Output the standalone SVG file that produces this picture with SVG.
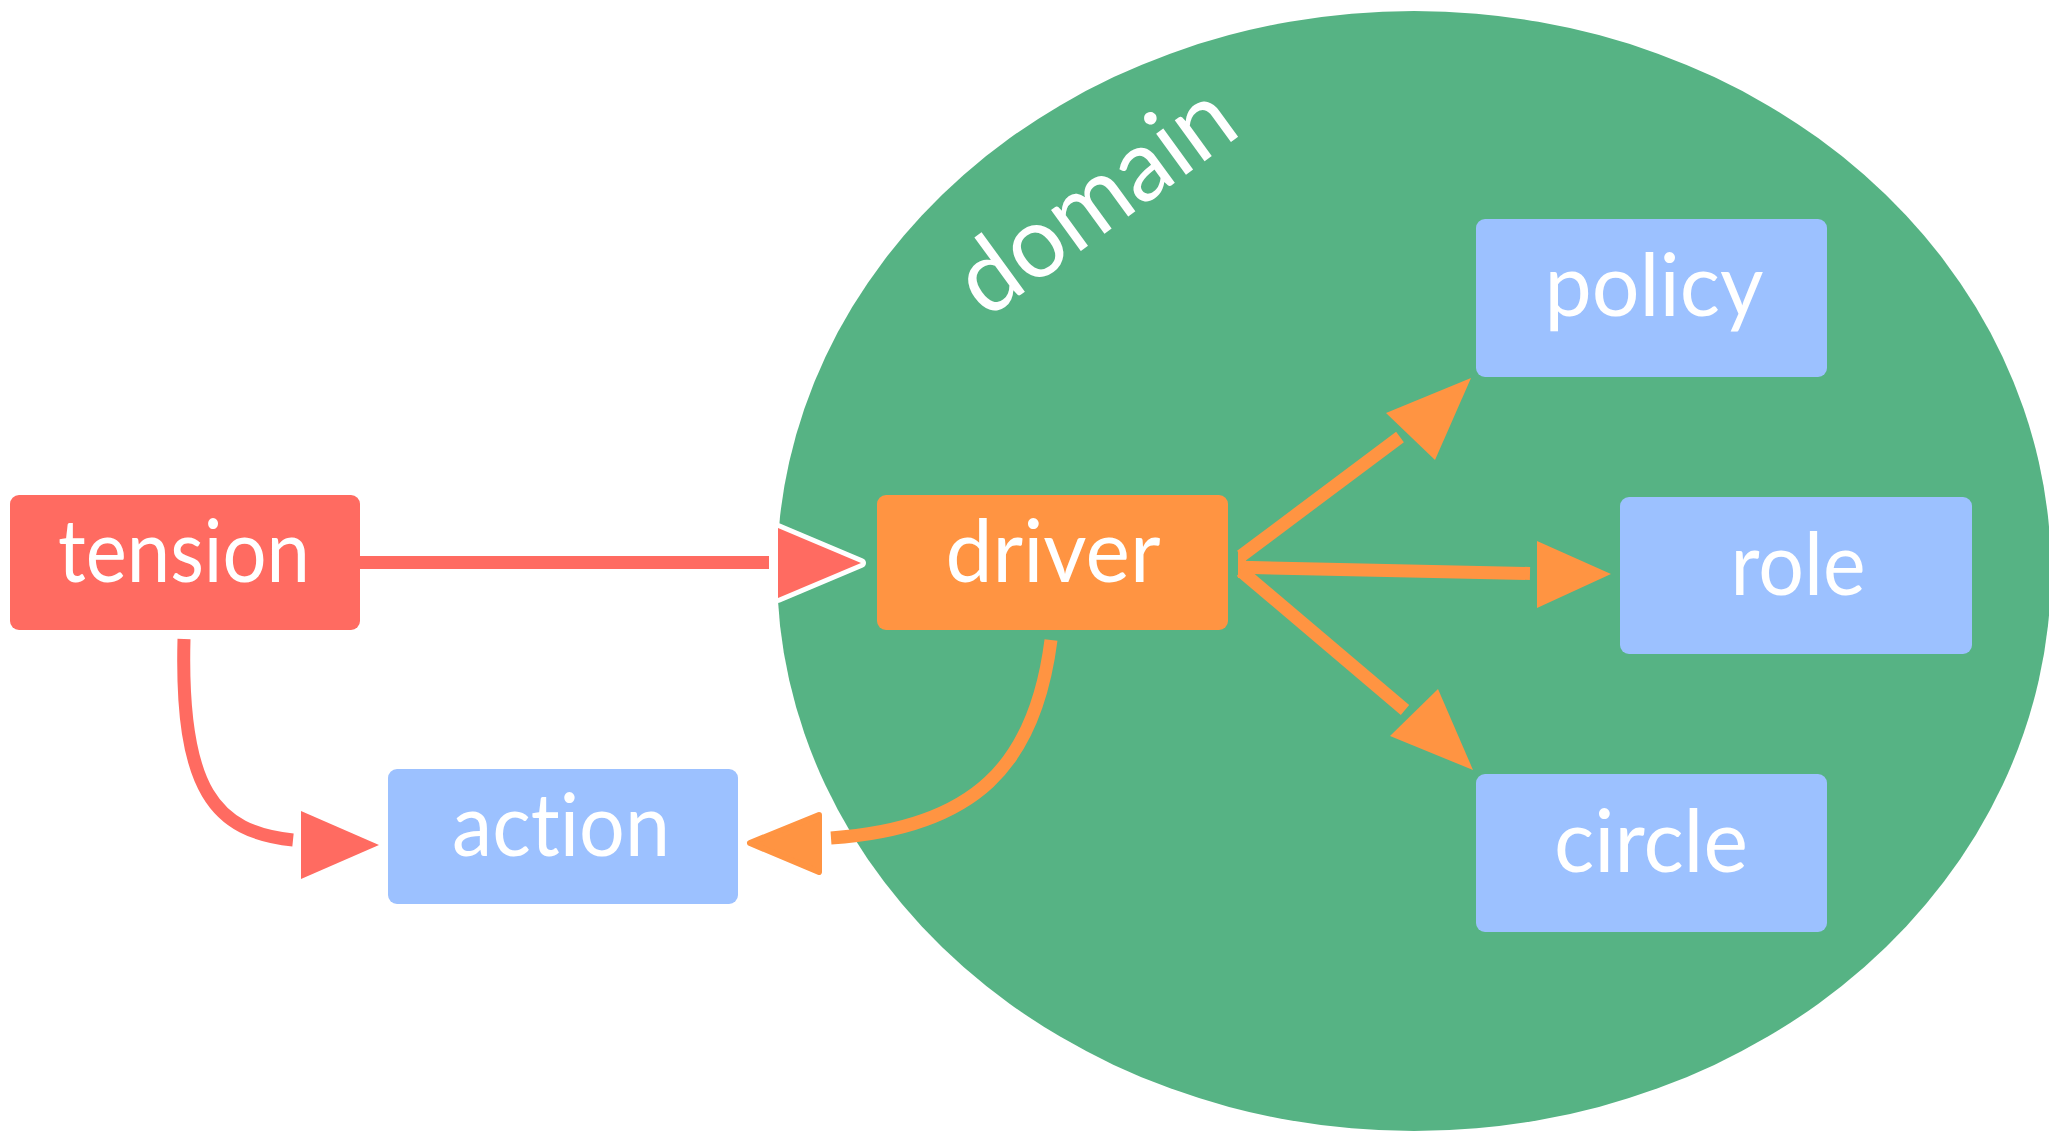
<svg xmlns="http://www.w3.org/2000/svg" width="2049" height="1134" viewBox="0 0 2049 1134">
  <style>
    .label { font-family: Lato, "Liberation Sans", sans-serif; font-size: 88px; fill: #ffffff; text-anchor: middle; font-variant-ligatures: none; }
    .title { font-family: Lato, "Liberation Sans", sans-serif; font-size: 100px; fill: #ffffff; font-variant-ligatures: none; }
    .tension { fill: #ff6b61; }
    .driver { fill: #ff9442; }
    .leaf { fill: #9cc1ff; }
    .red-line { fill: none; stroke: #ff6b61; stroke-width: 13; }
    .orange-line { fill: none; stroke: #ff9442; stroke-width: 13; }
  </style>
  <rect width="2049" height="1134" fill="#ffffff"/>

  <!-- domain area -->
  <g id="domain">
    <ellipse cx="1414" cy="571" rx="637" ry="560" fill="#56b384"/>
    <text class="title" transform="translate(986,320) rotate(-36)" x="0" y="0" textLength="318" lengthAdjust="spacingAndGlyphs">domain</text>
  </g>

  <!-- connectors -->
  <g id="connectors">
    <!-- tension -> driver -->
    <line class="red-line" x1="360" y1="562.5" x2="769" y2="562.5"/>
    <polygon points="778,528 861,563 778,598" fill="#ff6b61" stroke="#ffffff" stroke-width="10" stroke-linejoin="round" paint-order="stroke"/>

    <!-- tension -> action -->
    <path class="red-line" d="M184,639 C180,790 215,832 293,840"/>
    <polygon points="301,811 379,845 301,879" fill="#ff6b61"/>

    <!-- driver -> action -->
    <path class="orange-line" d="M1051,640 C1035,765 975,828 831,838"/>
    <polygon points="819,815 750,843 819,872" fill="#ff9442" stroke="#ff9442" stroke-width="6" stroke-linejoin="round"/>

    <!-- driver -> policy / role / circle -->
    <polygon points="1238,550 1246,550 1246,578 1238,578" fill="#ff9442"/>
    <line class="orange-line" x1="1241" y1="556" x2="1400" y2="437"/>
    <polygon points="1386,413 1471,378 1435,460" fill="#ff9442"/>
    <line class="orange-line" x1="1241" y1="567.3" x2="1530" y2="573.5"/>
    <polygon points="1537,541 1611,574 1537,608" fill="#ff9442"/>
    <line class="orange-line" x1="1241" y1="571" x2="1405" y2="710"/>
    <polygon points="1390,736 1438,689 1473,770" fill="#ff9442"/>
  </g>

  <g id="tension">
    <rect class="tension" x="10" y="495" width="350" height="135" rx="9"/>
    <text class="label" x="184" y="582" textLength="252" lengthAdjust="spacingAndGlyphs">tension</text>
  </g>

  <g id="driver">
    <rect class="driver" x="877" y="495" width="351" height="135" rx="9"/>
    <text class="label" x="1053" y="582" textLength="215" lengthAdjust="spacingAndGlyphs">driver</text>
  </g>

  <g id="action">
    <rect class="leaf" x="388" y="769" width="350" height="135" rx="9"/>
    <text class="label" x="561" y="856" textLength="218" lengthAdjust="spacingAndGlyphs">action</text>
  </g>

  <g id="policy">
    <rect class="leaf" x="1476" y="219" width="351" height="158" rx="9"/>
    <text class="label" x="1654" y="316" textLength="219" lengthAdjust="spacingAndGlyphs">policy</text>
  </g>

  <g id="role">
    <rect class="leaf" x="1620" y="497" width="352" height="157" rx="9"/>
    <text class="label" x="1798" y="595" textLength="135" lengthAdjust="spacingAndGlyphs">role</text>
  </g>

  <g id="circle">
    <rect class="leaf" x="1476" y="774" width="351" height="158" rx="9"/>
    <text class="label" x="1651" y="872" textLength="194" lengthAdjust="spacingAndGlyphs">circle</text>
  </g>
</svg>
